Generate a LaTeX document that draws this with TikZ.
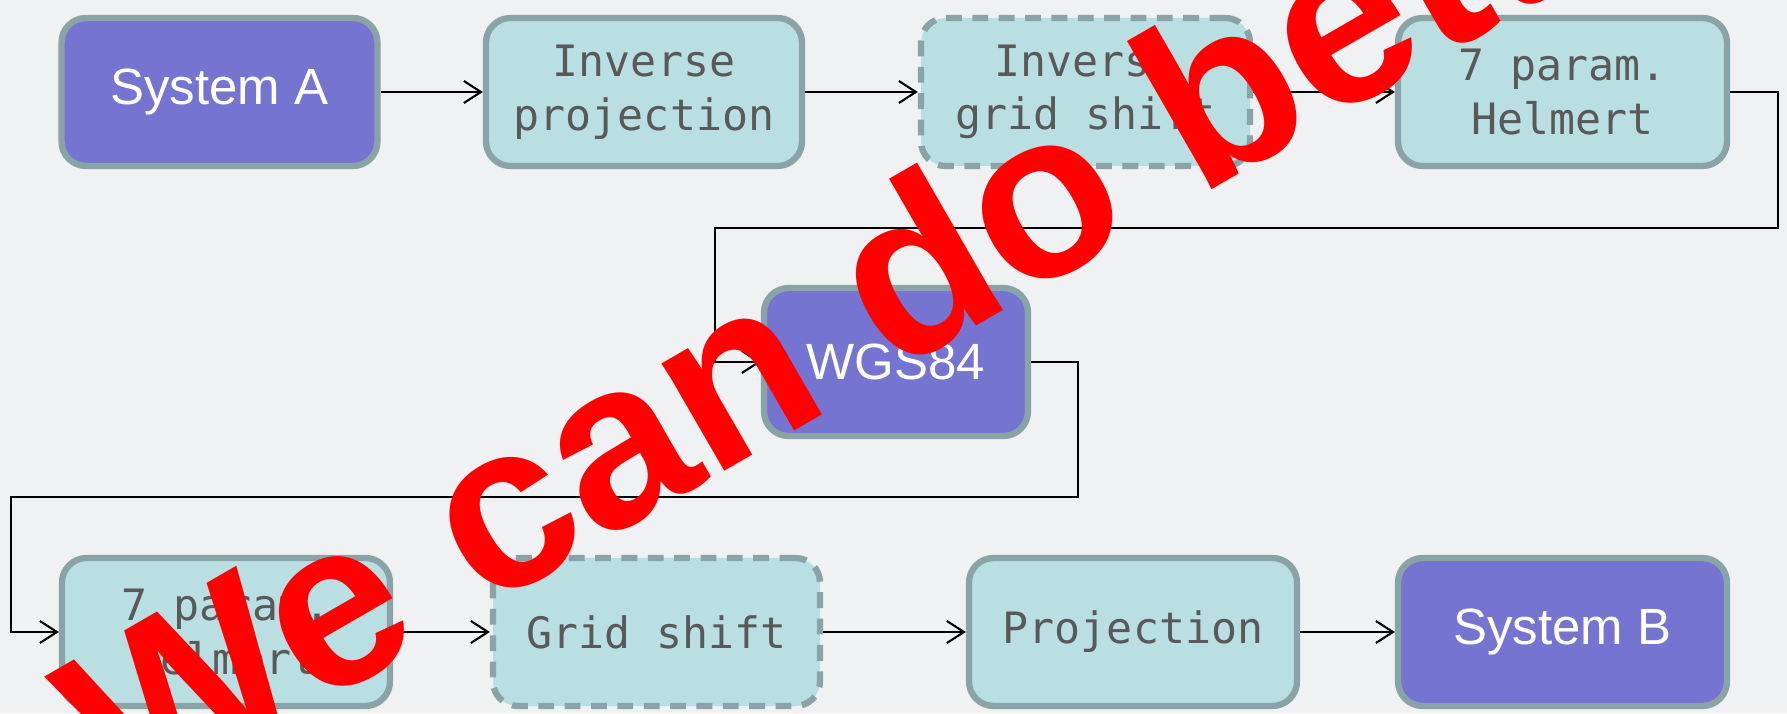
\documentclass[tikz,border=0pt]{standalone}
\usepackage{fontspec}
\setmainfont{Liberation Sans}
\newfontfamily\monofont{DejaVu Sans Mono}
\usetikzlibrary{arrows.meta,positioning}

\definecolor{sysfill}{RGB}{117,117,209}
\definecolor{stepfill}{RGB}{185,223,227}
\definecolor{boxline}{RGB}{138,163,166}
\definecolor{steptext}{RGB}{89,89,89}
\definecolor{backfill}{RGB}{239,241,243}

\tikzset{
	box/.style={draw=boxline, line width=1.8pt, rounded corners=7pt, minimum height=1.48cm, align=center},
	sysbox/.style={box, fill=sysfill, text=white, font=\fontsize{14.5}{17}\selectfont},
	stepbox/.style={box, fill=stepfill, text=steptext, font=\monofont\fontsize{12.3}{15.3}\selectfont},
	gridbox/.style={stepbox, dash pattern=on 4.5pt off 3pt},
	flow/.style={-{Straight Barb[length=1.7mm,width=2.2mm]}, line width=0.6pt},
}

\begin{document}
\begin{tikzpicture}
				\useasboundingbox (0,0) rectangle (17.87,7.13);
				\fill[backfill] (0,0) rectangle (17.87,7.13);
				
				\draw (2.195,6.21) node[sysbox, minimum width=3.16cm] (A) {System A};
				\draw (6.44,6.21) node[stepbox, minimum width=3.16cm] (IP) {Inverse\\projection};
				\draw (10.855,6.21) node[gridbox, minimum width=3.29cm] (IG) {Inverse\\grid shift};
				\draw (15.625,6.21) node[stepbox, minimum width=3.29cm] (H1) {7 param.\\Helmert};
				\draw (8.96,3.51) node[sysbox, minimum width=2.64cm] (W) {WGS84};
				\draw (2.26,0.81) node[stepbox, minimum width=3.28cm] (H2) {7 param.\\Helmert};
				\draw (6.565,0.81) node[gridbox, minimum width=3.27cm] (G) {Grid shift};
				\draw (11.33,0.81) node[stepbox, minimum width=3.28cm] (P) {Projection};
				\draw (15.625,0.81) node[sysbox, minimum width=3.29cm] (B) {System B};
				
				\draw[flow] (A) -- (IP);
				\draw[flow] (IP) -- (IG);
				\draw[flow] (IG) -- (H1);
				\draw[flow] (H1.east) -- (17.78,6.21) -- (17.78,4.85) -- (7.15,4.85) |- (W);
				\draw[flow] (W.east) -- (10.78,3.51) -- (10.78,2.16) -- (0.11,2.16) |- (H2);
				\draw[flow] (H2) -- (G);
				\draw[flow] (G) -- (P);
				\draw[flow] (P) -- (B);
				
				\begin{scope}
					\clip (0,0) rectangle (17.87,7.13);
					\node[rotate=30, text=red, font=\bfseries\fontsize{67}{71}\selectfont] (stamp) at (9.03,4.42) {We can do better};
				\end{scope}
			\end{tikzpicture}
\end{document}
